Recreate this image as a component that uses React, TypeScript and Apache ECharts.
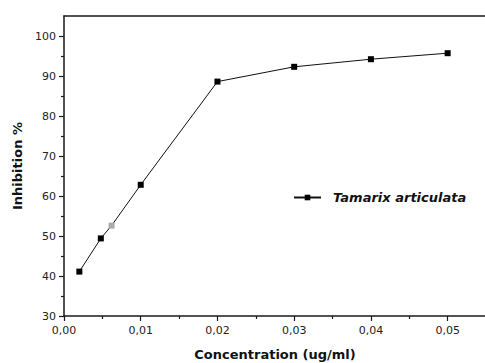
import React, { useEffect, useRef } from "react";
import * as echarts from "echarts";

const concentrations = [0.002, 0.0048, 0.0062, 0.01, 0.02, 0.03, 0.04, 0.05];
const inhibition = [41.1, 49.4, 52.6, 62.8, 88.6, 92.3, 94.2, 95.7];
const faintPoints = [0.0062];
const seriesName = "Tamarix articulata";
const xMajorTicks = [0, 0.01, 0.02, 0.03, 0.04, 0.05];
const xMinorTicks = [0.005, 0.015, 0.025, 0.035, 0.045];
const yMajorTicks = [30, 40, 50, 60, 70, 80, 90, 100];
const yMinorTicks = [35, 45, 55, 65, 75, 85, 95];

const FONT = "DejaVu Sans";
const AXIS_COLOR = "#1a1a1a";

export default function App() {
  const ref = useRef<HTMLDivElement>(null);
  useEffect(() => {
    if (!ref.current) return;
    const chart = echarts.init(ref.current, undefined, { renderer: "svg" });
    const data = concentrations.map((c, i) => {
      const faint = faintPoints.includes(c);
      return {
        value: [c, inhibition[i]],
        itemStyle: faint ? { color: "#aaaaaa" } : undefined,
      };
    });
    const fmtX = (v: number) => v.toFixed(2).replace(".", ",");
    chart.setOption({
      animation: false,
      backgroundColor: "#ffffff",
      grid: { left: 64, top: 16, width: 422, height: 300, containLabel: false, outerBoundsMode: "none" },
      legend: {
        data: [seriesName],
        left: 288,
        top: 186,
        itemWidth: 27,
        itemHeight: 7,
        textStyle: {
          fontFamily: FONT,
          fontSize: 13,
          fontWeight: "bold",
          fontStyle: "italic",
          color: "#111",
          padding: [0, 0, 0, 7],
        },
      },
      xAxis: [
        {
          type: "value",
          position: "bottom",
          min: 0,
          max: 0.055,
          interval: 0.005,
          name: "Concentration (ug/ml)",
          nameLocation: "middle",
          nameGap: 32,
          nameTextStyle: { fontFamily: FONT, fontSize: 13, fontWeight: "bold", color: "#111" },
          axisLine: { show: true, lineStyle: { color: AXIS_COLOR, width: 1.5 } },
          axisTick: { show: true, inside: false, length: 5, customValues: xMajorTicks, lineStyle: { color: AXIS_COLOR, width: 1.2 } },
          axisLabel: { show: true, customValues: xMajorTicks, margin: 9, fontFamily: FONT, fontSize: 11, color: "#222", formatter: (v: number) => fmtX(v) },
          splitLine: { show: false },
        },
        {
          type: "value",
          position: "bottom",
          min: 0,
          max: 0.055,
          axisLine: { show: false },
          axisTick: { show: true, inside: false, length: 3, customValues: xMinorTicks, lineStyle: { color: AXIS_COLOR, width: 1.2 } },
          axisLabel: { show: false },
          splitLine: { show: false },
        },
        {
          type: "value",
          position: "top",
          min: 0,
          max: 0.055,
          axisLine: { show: true, lineStyle: { color: AXIS_COLOR, width: 1.5 } },
          axisTick: { show: false },
          axisLabel: { show: false },
          splitLine: { show: false },
        },
      ],
      yAxis: [
        {
          type: "value",
          position: "left",
          min: 30,
          max: 105,
          interval: 5,
          name: "Inhibition %",
          nameLocation: "middle",
          nameGap: 40,
          nameTextStyle: { fontFamily: FONT, fontSize: 13, fontWeight: "bold", color: "#111" },
          axisLine: { show: true, lineStyle: { color: AXIS_COLOR, width: 1.5 } },
          axisTick: { show: true, inside: false, length: 5, customValues: yMajorTicks, lineStyle: { color: AXIS_COLOR, width: 1.2 } },
          axisLabel: { show: true, customValues: yMajorTicks, margin: 8, fontFamily: FONT, fontSize: 11, color: "#222" },
          splitLine: { show: false },
        },
        {
          type: "value",
          position: "left",
          min: 30,
          max: 105,
          axisLine: { show: false },
          axisTick: { show: true, inside: false, length: 3, customValues: yMinorTicks, lineStyle: { color: AXIS_COLOR, width: 1.2 } },
          axisLabel: { show: false },
          splitLine: { show: false },
        },
      ],
      series: [
        {
          name: seriesName,
          type: "line",
          xAxisIndex: 0,
          yAxisIndex: 0,
          data,
          symbol: "rect",
          symbolSize: 6,
          itemStyle: { color: "#000" },
          lineStyle: { color: "#111", width: 1 },
        },
      ],
    });
    return () => chart.dispose();
  }, []);
  return (
    <div
      ref={ref}
      style={{ position: "fixed", left: 0, top: 0, width: 485, height: 363, background: "#fff" }}
    />
  );
}
